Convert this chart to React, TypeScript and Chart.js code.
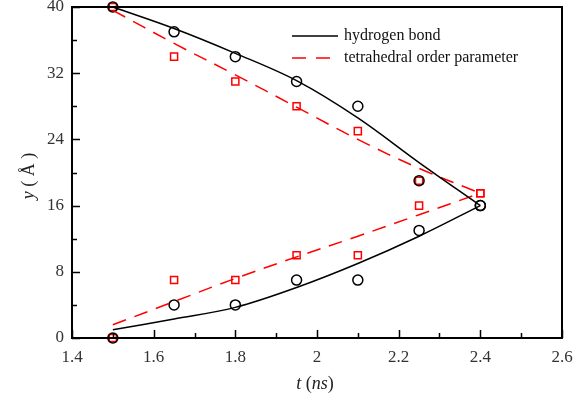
import React, { useEffect, useRef } from "react";
import { Chart, registerables } from "chart.js";

Chart.register(...registerables);

// ---- data ----
const tValues = [1.5, 1.65, 1.8, 1.95, 2.1, 2.25, 2.4];
const hbUpper = [40, 37, 34, 31, 28, 19, 16];
const hbLower = [0, 4, 4, 7, 7, 13, 16];
const toUpper = [40, 34, 31, 28, 25, 19, 17.5];
const toLower = [0, 7, 7, 10, 10, 16, 17.5];
const hbFitUpper = [40, 37.4, 34.4, 31.1, 26.6, 21.2, 16];
const hbFitLower = [1.0, 2.3, 3.7, 6.1, 9.0, 12.3, 16];
const toFitUpper = [39.6, 35.6, 31.8, 27.9, 24.0, 20.5, 17.5];
const toFitLower = [1.6, 4.4, 7.2, 9.8, 12.3, 14.9, 17.5];
const xTicks = [1.4, 1.6, 1.8, 2.0, 2.2, 2.4, 2.6];
const xMinorTicks = [1.5, 1.7, 1.9, 2.1, 2.3, 2.5];
const yTicks = [0, 8, 16, 24, 32, 40];
const yMinorTicks = [4, 12, 20, 28, 36];
const legendLabels = ["hydrogen bond", "tetrahedral order parameter"];

const SERIF = "'Liberation Serif', 'DejaVu Serif', serif";
const RED = "#ff0000";

const pts = (ys: number[]) => tValues.map((x, i) => ({ x, y: ys[i] }));

const framePlugin = {
  id: "frameTicks",
  afterDatasetsDraw(chart: any) {
    const { ctx, chartArea: a, scales } = chart;
    const xs = scales.x, ys = scales.y;
    ctx.save();
    ctx.strokeStyle = "#000";
    ctx.lineWidth = 1.5;
    ctx.beginPath();
    xTicks.forEach((v) => {
      const px = Math.round(xs.getPixelForValue(v)) + 0.5;
      ctx.moveTo(px, a.bottom);
      ctx.lineTo(px, a.bottom - 8);
    });
    xMinorTicks.forEach((v) => {
      const px = Math.round(xs.getPixelForValue(v)) + 0.5;
      ctx.moveTo(px, a.bottom);
      ctx.lineTo(px, a.bottom - 5);
    });
    yTicks.forEach((v) => {
      const py = Math.round(ys.getPixelForValue(v)) + 0.5;
      ctx.moveTo(a.left, py);
      ctx.lineTo(a.left + 8, py);
    });
    yMinorTicks.forEach((v) => {
      const py = Math.round(ys.getPixelForValue(v)) + 0.5;
      ctx.moveTo(a.left, py);
      ctx.lineTo(a.left + 5, py);
    });
    ctx.stroke();
    ctx.lineWidth = 2;
    ctx.strokeRect(a.left, a.top, a.right - a.left, a.bottom - a.top);

    // legend
    const lx0 = 292, lx1 = 338, tx = 344;
    const ly = [36, 58];
    ctx.lineWidth = 1.5;
    ctx.strokeStyle = "#000";
    ctx.setLineDash([]);
    ctx.beginPath();
    ctx.moveTo(lx0, ly[0]);
    ctx.lineTo(lx1, ly[0]);
    ctx.stroke();
    ctx.strokeStyle = RED;
    ctx.setLineDash([14, 10]);
    ctx.beginPath();
    ctx.moveTo(lx0, ly[1]);
    ctx.lineTo(lx1 + 2, ly[1]);
    ctx.stroke();
    ctx.setLineDash([]);
    ctx.fillStyle = "#111";
    ctx.font = `16px ${SERIF}`;
    ctx.textBaseline = "middle";
    ctx.textAlign = "left";
    ctx.fillText(legendLabels[0], tx, ly[0]);
    ctx.fillText(legendLabels[1], tx, ly[1]);

    // axis titles
    const parts = (segs: [string, boolean][], cx: number, cy: number, rot: boolean) => {
      ctx.save();
      ctx.translate(cx, cy);
      if (rot) ctx.rotate(-Math.PI / 2);
      let total = 0;
      const w = segs.map(([s, it]) => {
        ctx.font = `${it ? "italic " : ""}18px ${SERIF}`;
        const m = ctx.measureText(s).width;
        total += m;
        return m;
      });
      let x = -total / 2;
      ctx.textBaseline = "alphabetic";
      ctx.textAlign = "left";
      segs.forEach(([s, it], i) => {
        ctx.font = `${it ? "italic " : ""}18px ${SERIF}`;
        ctx.fillText(s, x, 0);
        x += w[i];
      });
      ctx.restore();
    };
    ctx.fillStyle = "#222";
    parts([["t", true], [" (", false], ["ns", true], [")", false]], 315, 389, false);
    parts([["y", true], [" ( ", false], ["Å", false], [" )", false]], 34, 176, true);
    ctx.restore();
  },
};

const zeroPad = (s: any) => {
  s.paddingLeft = 0;
  s.paddingRight = 0;
  s.paddingTop = 0;
  s.paddingBottom = 0;
};

export default function App() {
  const ref = useRef<HTMLCanvasElement>(null);
  useEffect(() => {
    if (!ref.current) return;
    const lineDs = (data: number[], color: string, dashed: boolean) => ({
      type: "scatter" as const,
      data: pts(data),
      showLine: true,
      borderColor: color,
      backgroundColor: color,
      borderWidth: 1.5,
      borderDash: dashed ? [14, 9] : [],
      pointRadius: 0,
      tension: 0.35,
      clip: false as any,
    });
    const markDs = (data: number[], color: string, style: string) => ({
      type: "scatter" as const,
      data: pts(data),
      showLine: false,
      pointStyle: style,
      pointRadius: 5,
      pointBorderWidth: 1.5,
      borderColor: color,
      backgroundColor: "rgba(0,0,0,0)",
      pointBackgroundColor: "rgba(0,0,0,0)",
      pointBorderColor: color,
      clip: false as any,
    });
    const chart = new Chart(ref.current, {
      type: "scatter",
      data: {
        datasets: [
          lineDs(hbFitUpper, "#000", false),
          lineDs(hbFitLower, "#000", false),
          lineDs(toFitUpper, RED, true),
          lineDs(toFitLower, RED, true),
          markDs(hbUpper, "#000", "circle"),
          markDs(hbLower, "#000", "circle"),
          markDs(toUpper, RED, "rect"),
          markDs(toLower, RED, "rect"),
        ] as any,
      },
      options: {
        responsive: false,
        animation: false,
        layout: { padding: { top: 7, right: 12, left: 0, bottom: 0 } },
        plugins: { legend: { display: false }, tooltip: { enabled: false } },
        scales: {
          x: {
            type: "linear",
            min: 1.4,
            max: 2.6,
            afterFit: (s: any) => { s.height = 65; zeroPad(s); },
            afterBuildTicks: (s: any) => { s.ticks = xTicks.map((v) => ({ value: v })); },
            grid: { display: false, drawTicks: false },
            border: { display: false },
            ticks: {
              padding: 9,
              color: "#333",
              font: { family: SERIF, size: 17 },
              callback: (v: any) => String(Math.round(Number(v) * 10) / 10),
            },
          },
          y: {
            type: "linear",
            min: 0,
            max: 40,
            afterFit: (s: any) => { s.width = 72; zeroPad(s); },
            afterBuildTicks: (s: any) => { s.ticks = yTicks.map((v) => ({ value: v })); },
            grid: { display: false, drawTicks: false },
            border: { display: false },
            ticks: {
              padding: 8,
              color: "#333",
              font: { family: SERIF, size: 17 },
              callback: (v: any) => String(v),
            },
          },
        },
      },
      plugins: [framePlugin],
    });
    return () => chart.destroy();
  }, []);
  return (
    <div style={{ position: "fixed", left: 0, top: 0, width: 574, height: 403, background: "#fff" }}>
      <canvas ref={ref} width={574} height={403} />
    </div>
  );
}
